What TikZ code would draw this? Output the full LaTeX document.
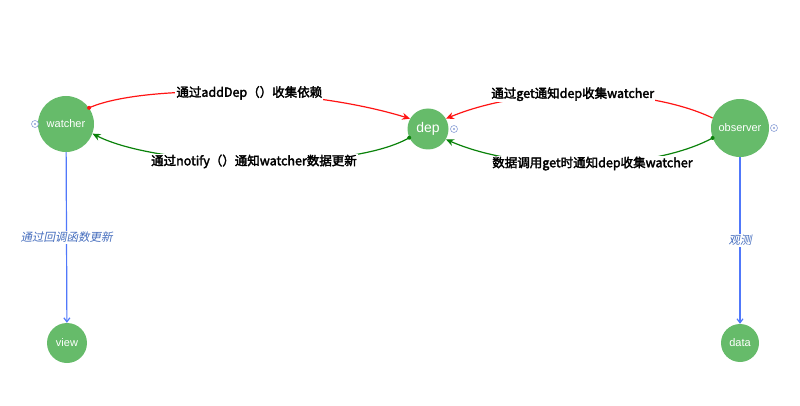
\documentclass[tikz,border=0pt]{standalone}
\usepackage{fontspec}
\usepackage{tikz}
\usetikzlibrary{arrows.meta}
\newfontfamily\cjk[AutoFakeSlant=0.2,AutoFakeBold=2.5]{Noto Sans CJK SC}
\newfontfamily\nodefont{Liberation Sans}
\definecolor{nodegreen}{RGB}{102,187,106}
\definecolor{linkred}{RGB}{255,20,20}
\definecolor{linkgreen}{RGB}{10,130,10}
\definecolor{linkblue}{RGB}{80,120,250}
\definecolor{notetext}{RGB}{70,110,190}
\definecolor{pincol}{RGB}{140,160,215}

\tikzset{
    state/.style={circle, fill=nodegreen, text=white, inner sep=0pt, font=\nodefont\fontsize{11}{13}\selectfont},
    linklabel/.style={fill=white, inner sep=1pt, font=\cjk\bfseries\fontsize{12.5}{14}\selectfont},
    notelabel/.style={fill=white, inner sep=1pt, text=notetext, font=\cjk\itshape\fontsize{11.5}{13}\selectfont},
    redlink/.style={draw=linkred, line width=1.2pt, -{Stealth[length=8pt,width=7pt]}},
    greenlink/.style={draw=linkgreen, line width=1.2pt, -{Stealth[length=8pt,width=7pt]}},
    bluelink/.style={draw=linkblue, line width=1.2pt, -{Straight Barb[length=4pt,width=6pt]}},
    pin/.style={circle, draw=pincol, fill=white, line width=0.6pt, minimum size=7pt, inner sep=0pt},
}

\begin{document}
\begin{tikzpicture}[x=1pt,y=-1pt]
    \useasboundingbox (0,0) rectangle (800,406);

    % nodes
    \node[state, minimum size=56pt] (watcher) at (66,124) {watcher};
    \node[state, minimum size=41pt, font=\nodefont\fontsize{14}{16}\selectfont] (dep) at (428,129) {dep};
    \node[state, minimum size=58pt] (observer) at (740,128) {observer};
    \node[state, minimum size=40pt] (view) at (67,343) {view};
    \node[state, minimum size=38pt] (data) at (740,343) {data};

    % small pins beside nodes
    \node[pin] (pinw) at (35,124) {};
    \node[pin] (pind) at (454,129) {};
    \node[pin] (pino) at (774,128) {};
    \foreach \p in {pinw,pind,pino}
        \fill[pincol] (\p) circle (1.2pt);

    % watcher <-> dep
    \draw[redlink] (watcher.35) .. controls (140,85) and (300,85) .. (dep.150)
        node[linklabel, pos=0.56] (adddep) {通过addDep（）收集依赖};
    \fill[linkred] (watcher.35) circle (2pt);
    \draw[greenlink] (dep.205) .. controls (350,172) and (160,168) .. (watcher.-20)
        node[linklabel, pos=0.5] (notify) {通过notify（）通知watcher数据更新};
    \fill[linkgreen] (dep.205) circle (2pt);

    % observer -> dep
    \draw[redlink] (observer.160) .. controls (650,88) and (530,84) .. (dep.30)
        node[linklabel, pos=0.55] (getnotify) {通过get通知dep收集watcher};
    \draw[greenlink] (observer.200) .. controls (650,172) and (520,172) .. (dep.-30)
        node[linklabel, pos=0.47] (getcall) {数据调用get时通知dep收集watcher};
    \fill[linkgreen] (observer.200) circle (2pt);

    % downward links
    \draw[bluelink] (watcher) -- (view)
        node[notelabel, pos=0.5] (callback) {通过回调函数更新};
    \draw[bluelink] (observer) -- (data)
        node[notelabel, pos=0.5] (watch) {观测};
\end{tikzpicture}
\end{document}
